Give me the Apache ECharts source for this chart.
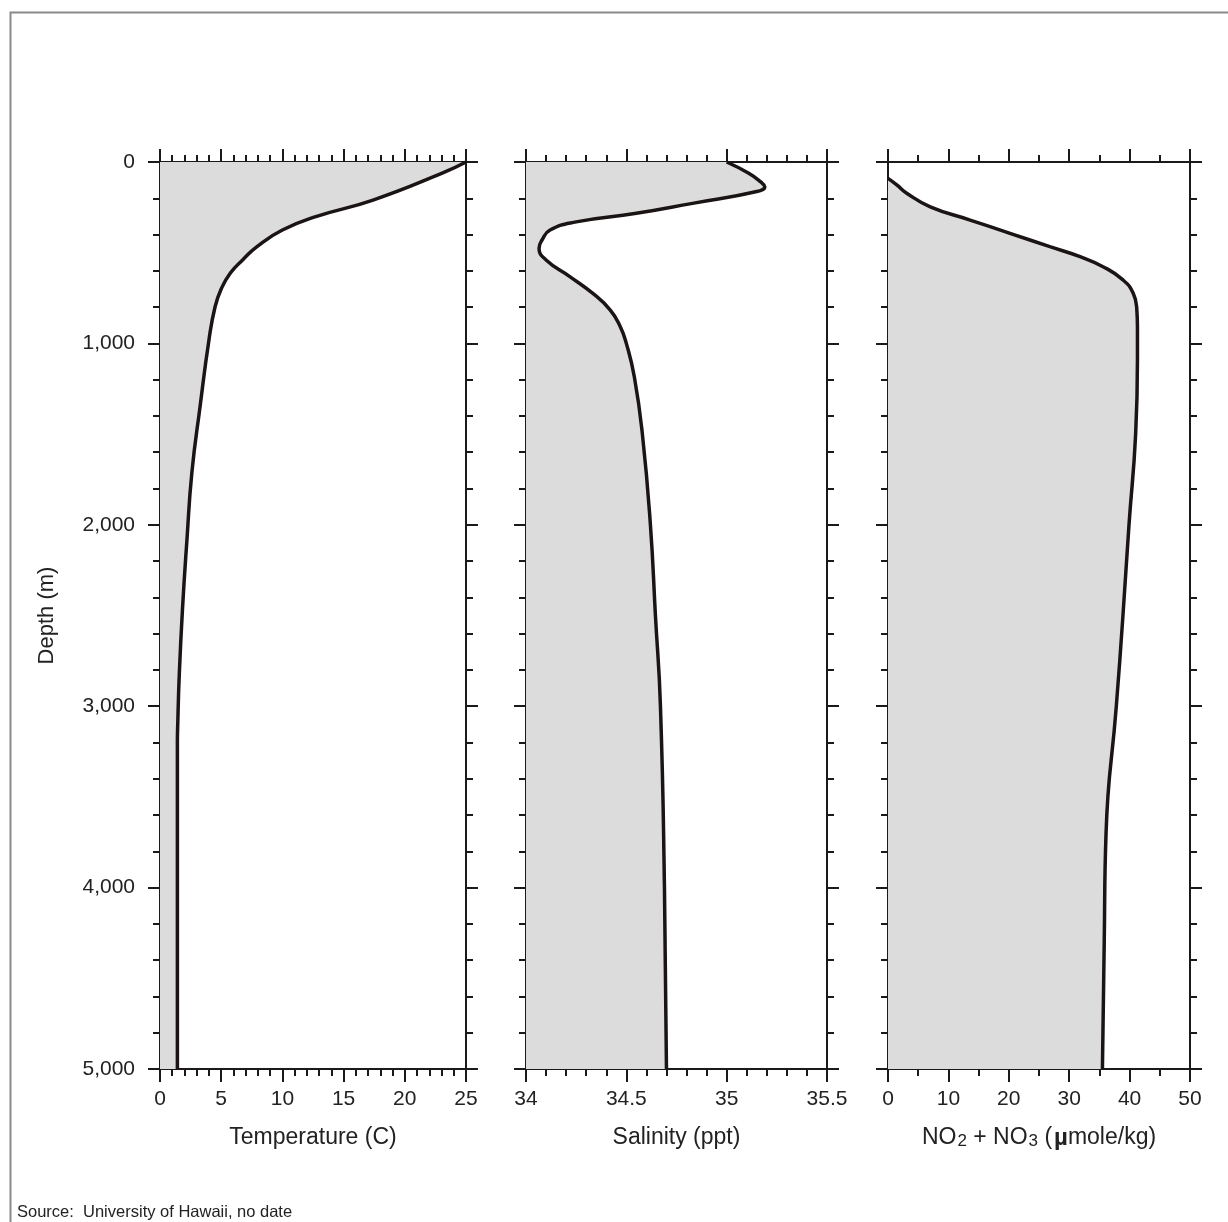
<!DOCTYPE html>
<html><head><meta charset="utf-8">
<script src="https://cdn.jsdelivr.net/npm/echarts@6/dist/echarts.min.js"></script>
<style>html,body{margin:0;padding:0;background:#fff}#c{width:1228px;height:1222px}</style>
</head><body><div id="c"></div>
<script>
// ---- data ----
const depthTicks = ['0', '1,000', '2,000', '3,000', '4,000', '5,000'];
const tempDepth  = [0, 60, 210, 300, 375, 468, 540, 612, 700, 798, 981, 1350, 1715, 2084, 2450, 2817, 3100, 3200, 5000];
const tempValues = [25, 23.1, 17.4, 12.8, 10.0, 7.9, 6.75, 5.75, 5.0, 4.5, 4.0, 3.27, 2.6, 2.2, 1.85, 1.58, 1.45, 1.42, 1.42];
const salDepth   = [0, 62, 110, 136, 163, 228, 283, 330, 375, 430, 475, 540, 633, 722, 816, 908, 1000, 1185, 1500, 2000, 2500, 3000, 4000, 5000];
const salValues  = [35.0, 35.11, 35.17, 35.19, 35.15, 34.83, 34.55, 34.25, 34.12, 34.08, 34.065, 34.1, 34.22, 34.33, 34.42, 34.47, 34.5, 34.54, 34.58, 34.62, 34.645, 34.67, 34.69, 34.70];
const no3Depth   = [90, 126, 172, 247, 320, 393, 467, 522, 577, 650, 724, 816, 908, 1090, 1500, 2000, 2500, 3000, 3700, 4300, 5000];
const no3Values  = [0, 1.45, 3.1, 7.0, 13.6, 20.2, 26.8, 31.8, 35.6, 38.9, 40.6, 41.2, 41.3, 41.3, 41.0, 39.9, 38.9, 37.8, 36.1, 35.8, 35.5];

const FONT = '"Liberation Sans", Arial, sans-serif';
const INK = '#1a1a1a';
const TXT = '#222';

const panels = [
  { left: 160, width: 306, min: 0,  max: 25,  interval: 5,   minor: 5, name: 'Temperature (C)', depth: tempDepth, values: tempValues },
  { left: 526, width: 301, min: 34, max: 35.5, interval: 0.5, minor: 5, name: 'Salinity (ppt)', depth: salDepth, values: salValues },
  { left: 888, width: 302, min: 0,  max: 50,  interval: 10,  minor: 2, name: 'NO{s|2} + NO{s|3} ({m|µ}mole/kg)', depth: no3Depth, values: no3Values }
];
const TOP = 162, HEIGHT = 907;

const grid = [], xAxis = [], yAxis = [], series = [];
const tickLine = { color: INK, width: 2 };

panels.forEach((p, i) => {
  grid.push({ left: p.left, top: TOP, width: p.width, height: HEIGHT });
});
panels.forEach((p, i) => {
  grid.push({ left: p.left - 11, top: TOP, width: p.width + 22, height: HEIGHT });
});

panels.forEach((p, i) => {
  const common = {
    type: 'value', gridIndex: i, min: p.min, max: p.max, interval: p.interval,
    axisLine: { show: true, onZero: false, lineStyle: { color: INK, width: 2 } },
    axisTick: { show: true, length: 13, lineStyle: tickLine },
    minorTick: { show: true, splitNumber: p.minor, length: 7, lineStyle: { color: INK, width: 2 } },
    splitLine: { show: false }, minorSplitLine: { show: false }
  };
  xAxis.push(Object.assign({}, common, {
    position: 'bottom',
    axisLabel: { show: true, margin: 20, fontSize: 21, color: TXT, fontFamily: FONT },
    name: p.name, nameLocation: 'middle', nameGap: 57,
    nameTextStyle: { fontSize: 23, color: TXT, fontFamily: FONT,
      rich: {
        s: { fontSize: 17, color: TXT, fontFamily: FONT, padding: [6, 0, 0, 1] },
        m: { fontSize: 24, fontWeight: 'bold', color: TXT, fontFamily: FONT, padding: [0, 0, 0, 2] }
      } }
  }));
  xAxis.push(Object.assign({}, common, { position: 'top', axisLabel: { show: false } }));

  const ycommon = {
    type: 'value', gridIndex: i, min: 0, max: 5000, interval: 1000, inverse: true,
    axisLine: { show: true, onZero: false, lineStyle: { color: INK, width: 2 } },
    axisTick: { show: true, length: 12, lineStyle: tickLine },
    minorTick: { show: true, splitNumber: 5, length: 7, lineStyle: { color: INK, width: 2 } },
    splitLine: { show: false }, minorSplitLine: { show: false }
  };
  const left = Object.assign({}, ycommon, { position: 'left',
    axisLabel: { show: i === 0, margin: 25, fontSize: 21, color: TXT, fontFamily: FONT,
      formatter: (v) => depthTicks[Math.round(v / 1000)] } });
  if (i === 0) {
    left.name = 'Depth (m)'; left.nameLocation = 'middle'; left.nameGap = 102;
    left.nameTextStyle = { fontSize: 22, color: TXT, fontFamily: FONT };
  }
  yAxis.push(left);
  yAxis.push(Object.assign({}, ycommon, { position: 'right', axisLabel: { show: false } }));
  // hidden time axis so that the depth axis acts as base axis (horizontal area fill)
  yAxis.push({ type: 'time', gridIndex: i, min: 0, max: 5000, inverse: true, show: false });

  series.push({
    type: 'line', xAxisIndex: 2 * i, yAxisIndex: 3 * i + 2,
    data: p.depth.map((d, k) => [p.values[k], d]),
    smooth: 0.5, showSymbol: false, symbol: 'none', silent: true,
    lineStyle: { color: '#1b1414', width: 3.5 },
    areaStyle: { color: '#dcdcdc', opacity: 1, origin: 'start' },
    z: 3
  });
});

// extended top/bottom axis lines (decorative, like the original frame lines)
panels.forEach((p, i) => {
  const g = 3 + i;
  const span = (p.max - p.min) * 11 / p.width;
  ['top', 'bottom'].forEach(pos => {
    xAxis.push({ type: 'value', gridIndex: g, position: pos, min: p.min - span, max: p.max + span,
      axisLine: { show: true, onZero: false, lineStyle: { color: INK, width: 2 } },
      axisTick: { show: false }, axisLabel: { show: false }, splitLine: { show: false } });
  });
  yAxis.push({ type: 'value', gridIndex: g, min: 0, max: 5000, show: false });
});

const chart = echarts.init(document.getElementById('c'), null, { renderer: 'canvas' });
chart.setOption({
  backgroundColor: '#fff',
  animation: false,
  grid, xAxis, yAxis, series,
  graphic: [
    { type: 'rect', left: 8, top: 10, shape: { width: 1240, height: 1240 },
      style: { fill: 'none', stroke: '#8a8a8a', lineWidth: 2 }, silent: true },
    { type: 'text', left: 17, top: 1204,
      style: { text: 'Source:  University of Hawaii, no date', fontSize: 16.5, fill: TXT, fontFamily: FONT } }
  ]
});
</script></body></html>
